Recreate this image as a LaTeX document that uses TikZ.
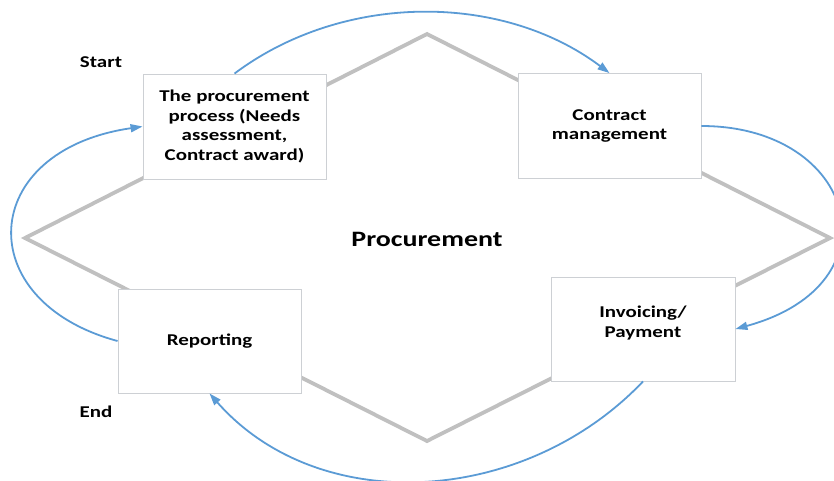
\documentclass[tikz,border=0pt]{standalone}
\usepackage{fontspec}
\setmainfont[FakeStretch=1.27]{Carlito}
\usetikzlibrary{arrows.meta}
\definecolor{diagrey}{RGB}{192,192,192}
\definecolor{boxline}{RGB}{205,208,212}
\definecolor{flowblue}{RGB}{91,155,213}
\begin{document}
\begin{tikzpicture}[x=1pt,y=-1pt,
  box/.style={draw=boxline,line width=0.9pt,fill=white,minimum width=183pt,minimum height=105pt,inner sep=0pt},
  boxtext/.style={font=\fontsize{16.5}{19.6}\selectfont\bfseries,align=center,inner sep=0pt},
  tag/.style={font=\fontsize{16.5}{19.6}\selectfont\bfseries,inner sep=0pt},
  flow/.style={draw=flowblue,line width=1.8pt,-{Triangle[length=12pt,width=8pt]}},
  rim/.style={draw=diagrey,line width=3.8pt,line join=miter}]
\useasboundingbox (0,0) rectangle (834,480);
% diamond
\coordinate (dl) at (25,238);
\coordinate (dt) at (427,34);
\coordinate (dr) at (830,238);
\coordinate (db) at (427,441);
\draw[rim] (dl) -- (dt) -- (dr) -- (db) -- cycle;
% boxes
\node[box,boxtext] (b1) at (234.5,126.5) {The procurement\\process (Needs\\assessment,\\Contract award)};
\node[box,boxtext] (b2) at (609.5,126) {Contract\\management};
\node[box,minimum width=184pt,minimum height=104pt] (b3) at (643,329) {};
\node[boxtext] (b3t) at (643,323) {Invoicing/\\Payment};
\node[box,boxtext,minimum height=104pt] (b4) at (209.5,341) {Reporting};
% labels
\node[tag] (start) at (101,62) {Start};
\node[tag] (end) at (96,412) {End};
\node[font=\fontsize{22}{26}\selectfont\bfseries,inner sep=0pt] (proc) at (427,239) {Procurement};
% arrows
\draw[flow] (b1.north) .. controls +(108,-81) and +(-108,-81) .. (b2.north);
\draw[flow] (b2.east) .. controls +(155,0) and +(165,-45) .. (b3.east);
\draw[flow] (b3.south) .. controls +(-118,124) and +(110,125) .. (b4.south);
\draw[flow] (b4.west) .. controls +(-148,-40) and +(-165,24) .. (b1.west);
\end{tikzpicture}
\end{document}
